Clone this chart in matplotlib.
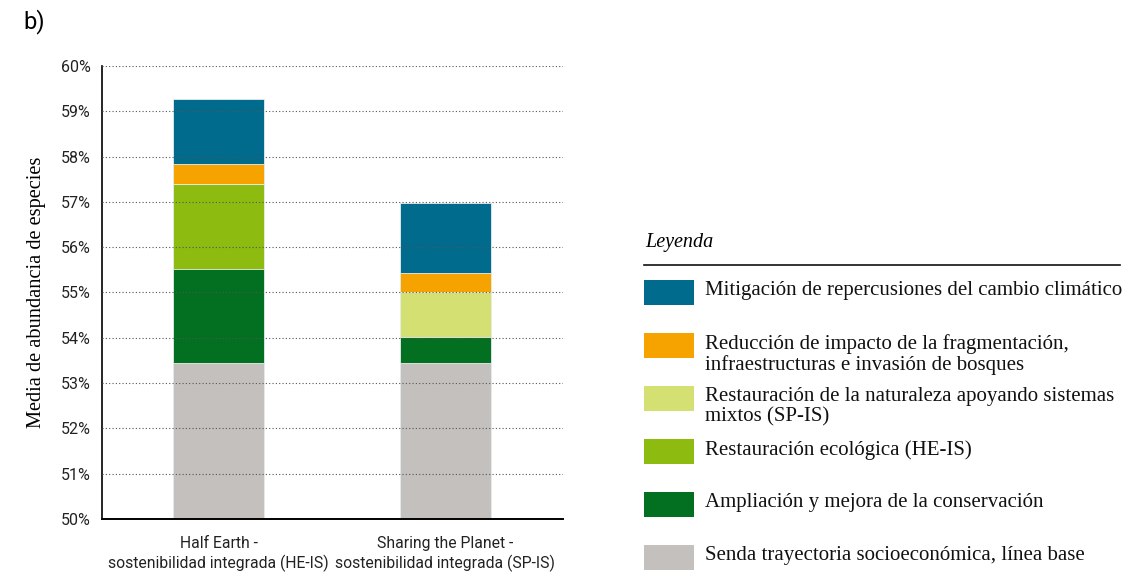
import matplotlib
matplotlib.use('Agg')
import matplotlib.pyplot as plt
from matplotlib.patches import Rectangle
from matplotlib.lines import Line2D

scenarios = ['Half Earth -\nsostenibilidad integrada (HE-IS)',
             'Sharing the Planet -\nsostenibilidad integrada (SP-IS)']

# cumulative top of each stacked segment (% mean species abundance)
baseline = [53.44, 53.44]
conservation = [55.52, 54.02]
restoration_he = [57.40, 54.02]
restoration_sp = [57.40, 55.01]
fragmentation = [57.84, 55.43]
climate = [59.27, 56.98]

legend_labels = [
    'Mitigación de repercusiones del cambio climático',
    'Reducción de impacto de la fragmentación,\ninfraestructuras e invasión de bosques',
    'Restauración de la naturaleza apoyando sistemas\nmixtos (SP-IS)',
    'Restauración ecológica (HE-IS)',
    'Ampliación y mejora de la conservación',
    'Senda trayectoria socioeconómica, línea base',
]
colors = ['#006b8c', '#f6a300', '#d5e072', '#8dbb0f', '#027020', '#c4c0bd']

cond = 'Roboto'
serif = 'Liberation Serif'

fig = plt.figure(figsize=(11.42, 5.73), dpi=100)
W, H = 1142, 573
ax = fig.add_axes([102 / W, 1 - 519 / H, (563 - 102) / W, (519 - 66) / H])

x = [0, 1]
width = 0.40
# draw from the top segment down so lower segments overlap
layers = [
    (climate, colors[0]),
    (fragmentation, colors[1]),
    (restoration_sp, colors[2]),
    (restoration_he, colors[3]),
    (conservation, colors[4]),
    (baseline, colors[5]),
]
for tops, c in layers:
    ax.bar(x, tops, width=width, color=c, edgecolor='#e8eef0', linewidth=0.6, zorder=2)

ax.set_ylim(50, 60)
ax.set_xlim(-0.513, 1.518)
ax.set_yticks(range(50, 61))
ax.set_yticklabels([f'{v}%' for v in range(50, 61)], fontsize=11.5, family=cond, color='#222222')
ax.set_xticks(x)
ax.set_xticklabels(scenarios, fontsize=11.3, family=cond, color='#222222', linespacing=1.3)
ax.tick_params(length=0, pad=8)
ax.tick_params(axis='x', pad=12)
ax.grid(axis='y', linestyle=(0, (1, 2)), color='#555555', linewidth=0.8, zorder=3)
ax.set_axisbelow(False)
for side in ['top', 'right']:
    ax.spines[side].set_visible(False)
ax.spines['left'].set_linewidth(1.2)
ax.spines['bottom'].set_linewidth(1.4)
ax.set_ylabel('Media de abundancia de especies', fontsize=14.7, family=serif, labelpad=11)

fig.text(23 / W, 1 - 22 / H, 'b)', fontsize=17, family=cond, va='center', ha='left')

# legend panel
fig.text(645 / W, 1 - 242 / H, 'Leyenda', fontsize=14.5, family=serif, style='italic',
         va='center', ha='left')
fig.add_artist(Line2D([644 / W, 1120 / W], [1 - 265 / H, 1 - 265 / H],
                      color='#111111', linewidth=1.2))
for i, (lab, c) in enumerate(zip(legend_labels, colors)):
    top = 280 + i * 53
    fig.add_artist(Rectangle((644 / W, 1 - (top + 25) / H), 50 / W, 25 / H,
                             facecolor=c, edgecolor='none', transform=fig.transFigure))
    fig.text(705 / W, 1 - (top + 1) / H, lab, fontsize=15, family=serif,
             va='top', ha='left', linespacing=1.1, color='#111111')

fig.savefig('out.png', dpi=100)
